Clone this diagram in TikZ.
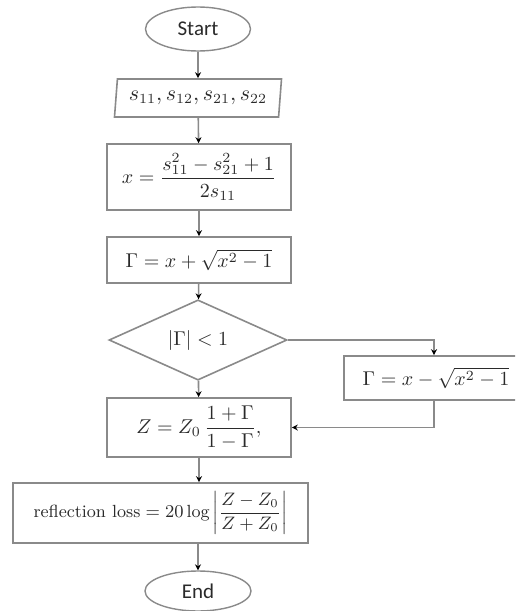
\documentclass[tikz,border=0pt]{standalone}
\usepackage{amsmath}
\usepackage{fontspec}
\newfontfamily\calib{Carlito}
\usetikzlibrary{shapes.geometric,arrows.meta,calc}
\definecolor{linec}{HTML}{8A8A8A}
\definecolor{textc}{HTML}{2A2A2A}
\tikzset{
  every node/.style={text=textc, font=\fontsize{9.6}{11}\selectfont, inner sep=0pt},
  term/.style={ellipse, draw=linec, line width=0.7pt, font=\calib\fontsize{10.5}{12}\selectfont},
  proc/.style={rectangle, draw=linec, line width=0.8pt},
  io/.style={trapezium, trapezium left angle=78, trapezium right angle=102, trapezium stretches body, draw=linec, line width=0.8pt},
  dec/.style={diamond, draw=linec, line width=0.8pt},
  conn/.style={draw=linec, line width=0.8pt, -{Stealth[length=3pt,width=3pt,black]}},
}
\begin{document}
\begin{tikzpicture}[x=0.5pt,y=-0.5pt]
\clip (0,0) rectangle (515,611);
\useasboundingbox (0,0) rectangle (515,611);
\node[term, minimum width=52.5pt, minimum height=22pt] (start) at (198,29) {Start};
\node[io, minimum width=83.5pt, minimum height=19pt, font=\fontsize{10.5}{12}\selectfont] (inp) at (198,98) {$s_{11}, s_{12}, s_{21}, s_{22}$};
\node[proc, minimum width=92pt, minimum height=33pt] (bx) at (199,177) {$x=\dfrac{s_{11}^2-s_{21}^2+1}{2s_{11}}$};
\node[proc, minimum width=92pt, minimum height=23pt] (bg) at (199,260) {$\Gamma = x+\sqrt{x^2-1}$};
\node[dec, minimum width=89pt, minimum height=30pt] (dia) at (198,340) {$|\Gamma|<1$};
\node[proc, minimum width=92pt, minimum height=22pt] (g2) at (436,378) {$\Gamma = x-\sqrt{x^2-1}$};
\node[proc, minimum width=92pt, minimum height=29.5pt] (zb) at (199,427.5) {$Z=Z_0\,\dfrac{1+\Gamma}{1-\Gamma},$};
\node[proc, minimum width=147.5pt, minimum height=30pt, font=\fontsize{8.8}{10.5}\selectfont] (rl) at (160.5,513) {$\text{reflection loss}=20\log\left|\dfrac{Z-Z_0}{Z+Z_0}\right|$};
\node[term, minimum width=53pt, minimum height=20pt] (end) at (198,591) {End};
\draw[conn] (start) -- (inp);
\draw[conn] (inp) -- (bx);
\draw[conn] (bx) -- (bg);
\draw[conn] (bg) -- (dia);
\draw[conn] (dia) -- (zb);
\draw[conn] (dia.east) -| (g2.north -| 434,0);
\draw[conn] (g2.south -| 434,0) |- (zb.east);
\draw[conn] (zb.south) -- (zb.south |- rl.north);
\draw[conn] (end.north |- rl.south) -- (end.north);
\end{tikzpicture}
\end{document}
